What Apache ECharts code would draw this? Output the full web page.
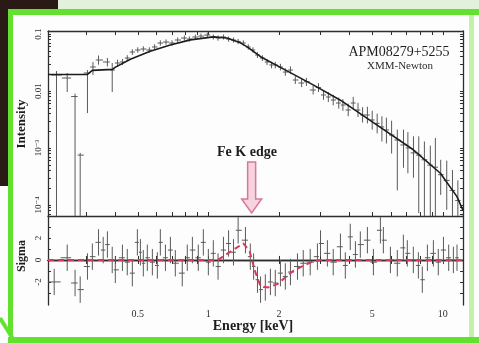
<!DOCTYPE html>
<html>
<head>
<meta charset="utf-8">
<script src="https://cdn.jsdelivr.net/npm/echarts@6/dist/echarts.min.js"></script>
<style>
  html, body { margin: 0; padding: 0; background: #fff; }
  #chart { width: 479px; height: 343px; }
</style>
</head>
<body>
<div id="chart"></div>
<script>
// APM08279+5255, XMM-Newton spectrum + residuals

// upper panel: binned data (keV, intensity, lower / upper end of error bar; 0 = runs off the bottom)
const specEnergy = [0.225, 0.25, 0.27, 0.284, 0.305, 0.322, 0.34, 0.371, 0.389, 0.41,
  0.43, 0.451, 0.474, 0.5, 0.528, 0.56, 0.59, 0.624, 0.66, 0.7,
  0.74, 0.79, 0.83, 0.88, 0.93, 0.99, 1.05, 1.1, 1.16, 1.22,
  1.28, 1.34, 1.41, 1.48, 1.55, 1.62, 1.7, 1.78, 1.86, 1.93,
  2.03, 2.13, 2.24, 2.35, 2.5, 2.62, 2.8, 2.95, 3.1, 3.25,
  3.41, 3.6, 3.75, 3.95, 4.15, 4.35, 4.55, 4.77, 5.0, 5.25,
  5.5, 5.75, 6.05, 6.4, 6.8, 7.1, 7.5, 7.9, 8.35, 8.85,
  9.3, 9.8, 10.4, 11.0, 11.6];
const specFlux = [0.0191, 0.0169, 0.008, 0.00075, 0.0207, 0.0264, 0.035, 0.0323, 0.0233, 0.031,
  0.0323, 0.0379, 0.0483, 0.0524, 0.0546, 0.0524, 0.0592, 0.0695, 0.0724, 0.0695,
  0.0785, 0.0851, 0.0817, 0.0886, 0.092, 0.096, 0.0886, 0.0851, 0.0886, 0.0817,
  0.0785, 0.0741, 0.0695, 0.0592, 0.0524, 0.0428, 0.0379, 0.0323, 0.0286, 0.0286,
  0.0264, 0.0215, 0.0233, 0.0156, 0.0138, 0.0145, 0.0104, 0.0115, 0.00851, 0.00785,
  0.00695, 0.00615, 0.00567, 0.00464, 0.00615, 0.00464, 0.00379, 0.00379, 0.0031, 0.0027,
  0.00234, 0.00207, 0.00169, 0.00138, 0.00113, 0.001, 0.00082, 0.00075, 0.00062, 0.0005,
  0.00046, 0.00034, 0.00027, 0.00018, 0.00012];
const specLo = [0, 0.0096, 0, 0, 0.0041, 0.0191, 0.029, 0.027, 0.0096, 0.0265,
  0.0285, 0.0335, 0.043, 0.047, 0.049, 0.047, 0.053, 0.0625, 0.065, 0.0625,
  0.0705, 0.0765, 0.0735, 0.08, 0.083, 0.0865, 0.08, 0.0765, 0.08, 0.0735,
  0.0705, 0.0665, 0.0625, 0.053, 0.047, 0.038, 0.0335, 0.0285, 0.025, 0.025,
  0.023, 0.0185, 0.02, 0.0133, 0.0117, 0.0123, 0.0087, 0.0096, 0.007, 0.0064,
  0.0056, 0.0049, 0.0045, 0.0036, 0.0048, 0.0035, 0.0028, 0.0027, 0.0021, 0.0018,
  0.0013, 0.0012, 0.0008, 0.00018, 0.00045, 0.00036, 0.0003, 0.000072, 0, 0,
  0, 0.00015, 0.000082, 0, 0];
const specHi = [0.0224, 0.0207, 0.009, 0.00082, 0.0233, 0.0323, 0.042, 0.038, 0.031, 0.0355,
  0.0365, 0.0425, 0.054, 0.0585, 0.061, 0.0585, 0.066, 0.0775, 0.0805, 0.0775,
  0.087, 0.0945, 0.0905, 0.098, 0.102, 0.106, 0.098, 0.0945, 0.098, 0.0905,
  0.087, 0.0825, 0.0775, 0.066, 0.0585, 0.048, 0.0425, 0.0365, 0.0325, 0.0325,
  0.03, 0.025, 0.027, 0.0182, 0.0162, 0.017, 0.0124, 0.0137, 0.0103, 0.0096,
  0.0086, 0.0077, 0.0072, 0.006, 0.0079, 0.0062, 0.0052, 0.0053, 0.0045, 0.004,
  0.0036, 0.0034, 0.003, 0.0021, 0.0021, 0.0019, 0.0016, 0.0016, 0.0013, 0.0011,
  0.0015, 0.00062, 0.0006, 0.00041, 0.00027];

// upper panel: best-fit model
const modelEnergy = [0.207, 0.305, 0.32, 0.39, 0.4, 0.465, 0.565, 0.688, 0.838, 1.05,
  1.2, 1.37, 1.47, 1.67, 2.03, 2.8, 3.66, 5.42, 7.49, 9.77, 11.5, 12.2];
const modelFlux = [0.0195, 0.0195, 0.023, 0.024, 0.026, 0.036, 0.05, 0.064, 0.079, 0.089,
  0.085, 0.07, 0.059, 0.04, 0.026, 0.0128, 0.0069, 0.0023, 0.00093, 0.00036, 0.00014, 0.00008];

// lower panel: residuals in sigma
const residEnergy = [0.22, 0.25, 0.27, 0.284, 0.305, 0.32, 0.34, 0.356, 0.371, 0.389,
  0.401, 0.43, 0.451, 0.474, 0.498, 0.513, 0.528, 0.549, 0.577, 0.606,
  0.624, 0.656, 0.689, 0.723, 0.774, 0.813, 0.855, 0.906, 0.952, 1.0,
  1.05, 1.1, 1.16, 1.22, 1.28, 1.34, 1.44, 1.51, 1.56, 1.62,
  1.67, 1.75, 1.84, 1.93, 2.03, 2.13, 2.24, 2.4, 2.54, 2.72,
  2.92, 3.01, 3.22, 3.41, 3.66, 3.84, 4.03, 4.24, 4.45, 4.77,
  5.06, 5.42, 5.58, 5.98, 6.4, 6.79, 7.06, 7.49, 7.87, 8.18,
  8.6, 9.12, 9.57, 10.07, 10.6, 11.1, 11.5];
const residSigma = [-2.0, 0.2, -2.1, -2.7, -0.6, 0.3, 1.6, 0.9, 1.4, 0,
  -0.9, 0.2, -0.2, -1.2, 1.6, 0.7, -0.3, 0.2, -0.2, -0.5,
  1.6, 0.2, 0.9, -0.3, -1.2, 0.2, 0.9, 0.2, 1.6, -0.2,
  0.6, -0.6, 0.9, 1.5, 0.7, 2.7, 1.8, 0.3, -0.6, -1.8,
  -2.7, -2.5, -2.0, -2.1, -1.2, -1.5, -1.1, -0.6, -0.3, -0.2,
  0.3, 1.5, 0.6, -0.2, 1.2, -0.5, 2.1, 0.5, 1.4, 1.8,
  -0.2, 2.7, 1.8, 0, -0.3, 1.1, 0.6, 0, -0.5, -1.8,
  0.2, 0.6, -0.2, 0.9, 0.2, 0, 0.2];
const residErr = 1.2;

// lower panel: red dashed line (model with the Fe K edge)
const edgeEnergy = [0.207, 1.1, 1.21, 1.41, 1.5, 1.58, 1.67, 1.8, 1.97, 2.13, 2.3, 2.5, 2.75, 3.0, 12.2];
const edgeSigma = [0, 0, 0.6, 1.5, 0.8, -1.0, -2.4, -2.5, -2.2, -1.6, -1.0, -0.6, -0.2, 0, 0];

const feEdgeEnergy = 1.53;

// axes
const E_MIN = 0.207, E_MAX = 12.2;
const I_MIN = 6.4e-5, I_MAX = 0.113;
const energyTicks = [0.5, 1, 2, 5, 10];
const energyMinorTicks = [0.3, 0.4, 0.5, 0.6, 0.7, 0.8, 0.9, 1, 2, 3, 4, 5, 6, 7, 8, 9, 10];
const fluxTicks = [0.1, 0.01, 0.001, 0.0001];
const fluxTickLabels = ['0.1', '0.01', '10\u207B\u00B3', '10\u207B\u2074'];
const fluxMinorTicks = [];
[1e-5, 1e-4, 1e-3, 1e-2].forEach(d => {
  for (let m = 1; m <= 9; m++) fluxMinorTicks.push(+(d * m).toPrecision(3));
});
const fluxTicksIn = fluxMinorTicks.filter(v => v >= I_MIN && v <= I_MAX).concat([0.1]);
const sigmaTicks = [-2, 0, 2];
const sigmaMinorTicks = [-3, -2, -1, 0, 1, 2, 3];

const SERIF = '"Liberation Serif", "DejaVu Serif", serif';
const INK = '#2e2e2e';
const DATA_INK = '#5a5a5a';

function binEdges(es) {
  return es.map((e, i) => {
    const left = i > 0 ? Math.sqrt(es[i - 1] * e) : e * e / Math.sqrt(e * es[i + 1]);
    const right = i < es.length - 1 ? Math.sqrt(e * es[i + 1]) : e * e / Math.sqrt(es[i - 1] * e);
    return [Math.max(left, E_MIN), Math.min(right, E_MAX)];
  });
}

const specEdges = binEdges(specEnergy);
const specData = specEnergy.map((e, i) => [
  e, specFlux[i],
  Math.max(specLo[i], I_MIN), Math.min(specHi[i], I_MAX),
  specEdges[i][0], specEdges[i][1]
]);
const residEdges = binEdges(residEnergy);
const residData = residEnergy.map((e, i) => [
  e, residSigma[i], residSigma[i] - residErr, residSigma[i] + residErr,
  residEdges[i][0], residEdges[i][1]
]);

function errorBar(params, api) {
  const x = api.value(0), y = api.value(1);
  const pLo = api.coord([x, api.value(2)]);
  const pHi = api.coord([x, api.value(3)]);
  const pL = api.coord([api.value(4), y]);
  const pR = api.coord([api.value(5), y]);
  const style = { stroke: DATA_INK, lineWidth: 1 };
  return {
    type: 'group',
    children: [
      { type: 'line', shape: { x1: pLo[0], y1: pLo[1], x2: pHi[0], y2: pHi[1] }, style },
      { type: 'line', shape: { x1: pL[0], y1: pL[1], x2: pR[0], y2: pR[1] }, style }
    ]
  };
}

function energyAxis(gridIndex, position, showLabels) {
  return {
    type: 'log', gridIndex, position, min: E_MIN, max: E_MAX,
    axisLine: { lineStyle: { color: INK, width: 1.3 } },
    axisTick: { inside: true, length: 4, customValues: energyMinorTicks, lineStyle: { color: INK } },
    axisLabel: {
      show: showLabels, customValues: energyTicks, margin: 4,
      fontFamily: SERIF, fontSize: 10, color: INK,
      formatter: v => String(+v.toPrecision(3))
    },
    splitLine: { show: false }
  };
}

function fluxAxis(position, showLabels) {
  return {
    type: 'log', gridIndex: 0, position, min: I_MIN, max: I_MAX,
    axisLine: { lineStyle: { color: INK, width: 1.3 } },
    axisTick: { inside: true, length: 3, customValues: fluxTicksIn, lineStyle: { color: INK } },
    axisLabel: {
      show: showLabels, customValues: fluxTicks, rotate: 90, margin: 5,
      fontFamily: SERIF, fontSize: 9, color: INK,
      formatter: v => {
        const k = fluxTicks.findIndex(t => Math.abs(Math.log10(t) - Math.log10(v)) < 0.01);
        return k >= 0 ? fluxTickLabels[k] : '';
      }
    },
    splitLine: { show: false }
  };
}

function sigmaAxis(position, showLabels) {
  return {
    type: 'value', gridIndex: 1, position, min: -4.1, max: 4,
    axisLine: { lineStyle: { color: INK, width: 1.3 } },
    axisTick: { inside: true, length: 3, customValues: sigmaMinorTicks, lineStyle: { color: INK } },
    axisLabel: {
      show: showLabels, customValues: sigmaTicks, rotate: 90, margin: 5,
      fontFamily: SERIF, fontSize: 9, color: INK
    },
    splitLine: { show: false }
  };
}

const GREEN = '#62e22f';

const chart = echarts.init(document.getElementById('chart'), null, { renderer: 'canvas' });
chart.setOption({
  animation: false,
  backgroundColor: '#fdfdfd',
  grid: [
    { left: 48, top: 31, width: 415, height: 185, outerBoundsMode: 'none' },
    { left: 48, top: 216, width: 415, height: 89, outerBoundsMode: 'none' }
  ],
  xAxis: [
    energyAxis(0, 'bottom', false),
    energyAxis(0, 'top', false),
    energyAxis(1, 'bottom', true),
    energyAxis(1, 'top', false)
  ],
  yAxis: [
    fluxAxis('left', true),
    fluxAxis('right', false),
    sigmaAxis('left', true),
    sigmaAxis('right', false)
  ],
  series: [
    {
      name: 'data', type: 'custom', xAxisIndex: 0, yAxisIndex: 0,
      renderItem: errorBar, data: specData, encode: { x: 0, y: 1 }, clip: true, z: 2
    },
    {
      name: 'model', type: 'line', xAxisIndex: 0, yAxisIndex: 0,
      data: modelEnergy.map((e, i) => [e, modelFlux[i]]),
      showSymbol: false, smooth: false,
      lineStyle: { color: '#1c1c1c', width: 1.6 }, z: 3
    },
    {
      name: 'residuals', type: 'custom', xAxisIndex: 2, yAxisIndex: 2,
      renderItem: errorBar, data: residData, encode: { x: 0, y: 1 }, clip: true, z: 2
    },
    {
      name: 'edge', type: 'line', xAxisIndex: 2, yAxisIndex: 2,
      data: edgeEnergy.map((e, i) => [e, edgeSigma[i]]),
      showSymbol: false, smooth: false,
      lineStyle: { color: '#d23c5c', width: 2, type: [6, 4] }, z: 3
    }
  ],
  graphic: [
    // photo frame
    { type: 'rect', shape: { x: 56, y: 0, width: 423, height: 9 }, style: { fill: '#e3f0dc' }, silent: true },
    { type: 'polygon', shape: { points: [[0, 0], [58, 0], [58, 9], [8, 9], [8, 186], [0, 186]] }, style: { fill: '#2a1a15' }, silent: true },
    { type: 'rect', shape: { x: 8, y: 9, width: 471, height: 6 }, style: { fill: GREEN }, silent: true },
    { type: 'rect', shape: { x: 8, y: 9, width: 5, height: 326 }, style: { fill: GREEN }, silent: true },
    { type: 'line', shape: { x1: 0, y1: 318, x2: 13, y2: 339 }, style: { stroke: GREEN, lineWidth: 4 }, silent: true },
    { type: 'rect', shape: { x: 8, y: 337, width: 471, height: 6 }, style: { fill: GREEN }, silent: true },
    { type: 'rect', shape: { x: 469, y: 15, width: 5, height: 322 }, style: { fill: '#c2f1aa' }, silent: true },
    // texts
    { type: 'text', x: 399, y: 52, style: { text: 'APM08279+5255', font: `14px ${SERIF}`, fill: '#1e1e1e', textAlign: 'center', textVerticalAlign: 'middle' } },
    { type: 'text', x: 400, y: 66, style: { text: 'XMM-Newton', font: `11px ${SERIF}`, fill: '#2a2a2a', textAlign: 'center', textVerticalAlign: 'middle' } },
    { type: 'text', x: 247, y: 152, style: { text: 'Fe K edge', font: `bold 14px ${SERIF}`, fill: '#1e1e1e', textAlign: 'center', textVerticalAlign: 'middle' } },
    { type: 'text', x: 253, y: 326, style: { text: 'Energy [keV]', font: `bold 14px ${SERIF}`, fill: '#1e1e1e', textAlign: 'center', textVerticalAlign: 'middle' } },
    { type: 'text', x: 22, y: 124, rotation: Math.PI / 2, style: { text: 'Intensity', font: `bold 13px ${SERIF}`, fill: '#1e1e1e', textAlign: 'center', textVerticalAlign: 'middle' } },
    { type: 'text', x: 22, y: 256, rotation: Math.PI / 2, style: { text: 'Sigma', font: `bold 12px ${SERIF}`, fill: '#1e1e1e', textAlign: 'center', textVerticalAlign: 'middle' } }
  ]
});

// Fe K edge arrow, placed at the edge energy on the energy axis
const ax = chart.convertToPixel({ xAxisIndex: 0 }, feEdgeEnergy);
chart.setOption({
  graphic: [{
    id: 'arrow', type: 'polygon', z: 10,
    shape: {
      points: [[ax - 4, 162], [ax + 4, 162], [ax + 4, 199], [ax + 10, 199], [ax, 213],
               [ax - 10, 199], [ax - 4, 199]]
    },
    style: { fill: '#f7d3de', stroke: '#d8779a', lineWidth: 1.5 }
  }]
});
</script>
</body>
</html>
